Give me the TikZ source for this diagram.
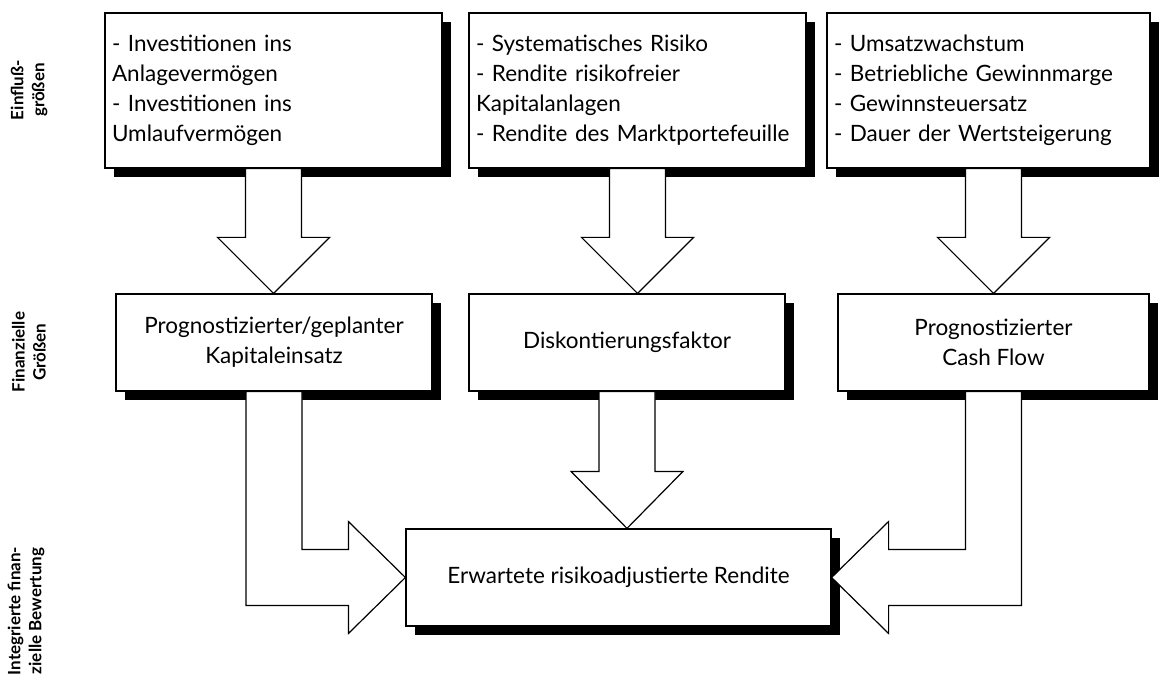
\documentclass[tikz,border=0pt]{standalone}
\usepackage{fontspec}
\setmainfont{Lato}
\usetikzlibrary{calc,shadows}

\tikzset{
  kasten/.style={draw, line width=1.2pt, fill=white, inner sep=0pt,
    drop shadow={shadow xshift=9pt, shadow yshift=-9pt, fill=black, opacity=1},
    font=\fontsize{22.5}{30}\selectfont},
  liste/.style={kasten, align=left, inner xsep=7pt, minimum height=155pt},
  mitte/.style={kasten, align=center, minimum height=97pt},
  zeile/.style={rotate=90, align=center, font=\bfseries\fontsize{17}{21}\selectfont},
  pfeil/.style={draw, line width=1.2pt, fill=white, line join=miter}
}

\begin{document}
\begin{tikzpicture}[x=1pt, y=-1pt]
  \useasboundingbox (0,0) rectangle (1160,679);

  % Ebenen links:
  \node[zeile] (L1) at (29,90) {Einfluß-\\größen};
  \node[zeile] (L2) at (29,352) {Finanzielle\\Größen};
  \node[zeile] (L3) at (26,611) {Integrierte finan-\\zielle Bewertung};

  % Einflussgrößen:
  \node[liste, text width=323pt] (T1) at (273.5,90.5) {- Investitionen ins\\Anlagevermögen\\- Investitionen ins\\Umlaufvermögen};
  \node[liste, text width=323pt] (T2) at (637.5,90.5) {- Systematisches Risiko\\- Rendite risikofreier\\Kapitalanlagen\\- Rendite des Marktportefeuille};
  \node[liste, text width=309pt] (T3) at (988.5,90.5) {- Umsatzwachstum\\- Betriebliche Gewinnmarge\\- Gewinnsteuersatz\\- Dauer der Wertsteigerung};

  % Finanzielle Größen:
  \node[mitte, minimum width=316pt] (M1) at (274,342.5) {Prognostizierter/geplanter\\Kapitaleinsatz};
  \node[mitte, minimum width=316pt] (M2) at (627,342.5) {Diskontierungsfaktor};
  \node[mitte, minimum width=311pt] (M3) at (993.5,342.5) {Prognostizierter\\Cash Flow};

  % Bewertung:
  \node[mitte, minimum width=425pt] (E) at (618.5,577.5) {Erwartete risikoadjustierte Rendite};

  % Pfeile oben:
  \coordinate (S1) at (T1.south);
  \coordinate (S2) at (T2.south);
  \coordinate (S3) at (M3.north |- T3.south);
  \foreach \i in {1,2,3}
    \draw[pfeil] ($(S\i)+(-28,0)$) -- ($(S\i |- M\i.north)+(-28,-56)$) -- ++(-28,0)
      -- (S\i |- M\i.north) -- ++(56,-56) -- ++(-28,0) -- ($(S\i)+(28,0)$) -- cycle;

  % Pfeil Mitte:
  \draw[pfeil] ($(M2.south)+(-28,0)$) -- ($(M2.south |- E.north)+(-28,-57)$) -- ++(-28,0)
    -- (M2.south |- E.north) -- ++(56,-57) -- ++(-28,0) -- ($(M2.south)+(28,0)$) -- cycle;

  % Pfeile zur Rendite:
  \draw[pfeil] ($(M1.south)+(-28,0)$) |- ($(E.west)+(-57,28)$) -- ++(0,28) -- (E.west)
    -- ($(E.west)+(-57,-56)$) -- ++(0,28) -| ($(M1.south)+(28,0)$) -- cycle;
  \draw[pfeil] ($(M3.south)+(28,0)$) |- ($(E.east)+(57,28)$) -- ++(0,28) -- (E.east)
    -- ($(E.east)+(57,-56)$) -- ++(0,28) -| ($(M3.south)+(-28,0)$) -- cycle;
\end{tikzpicture}
\end{document}
